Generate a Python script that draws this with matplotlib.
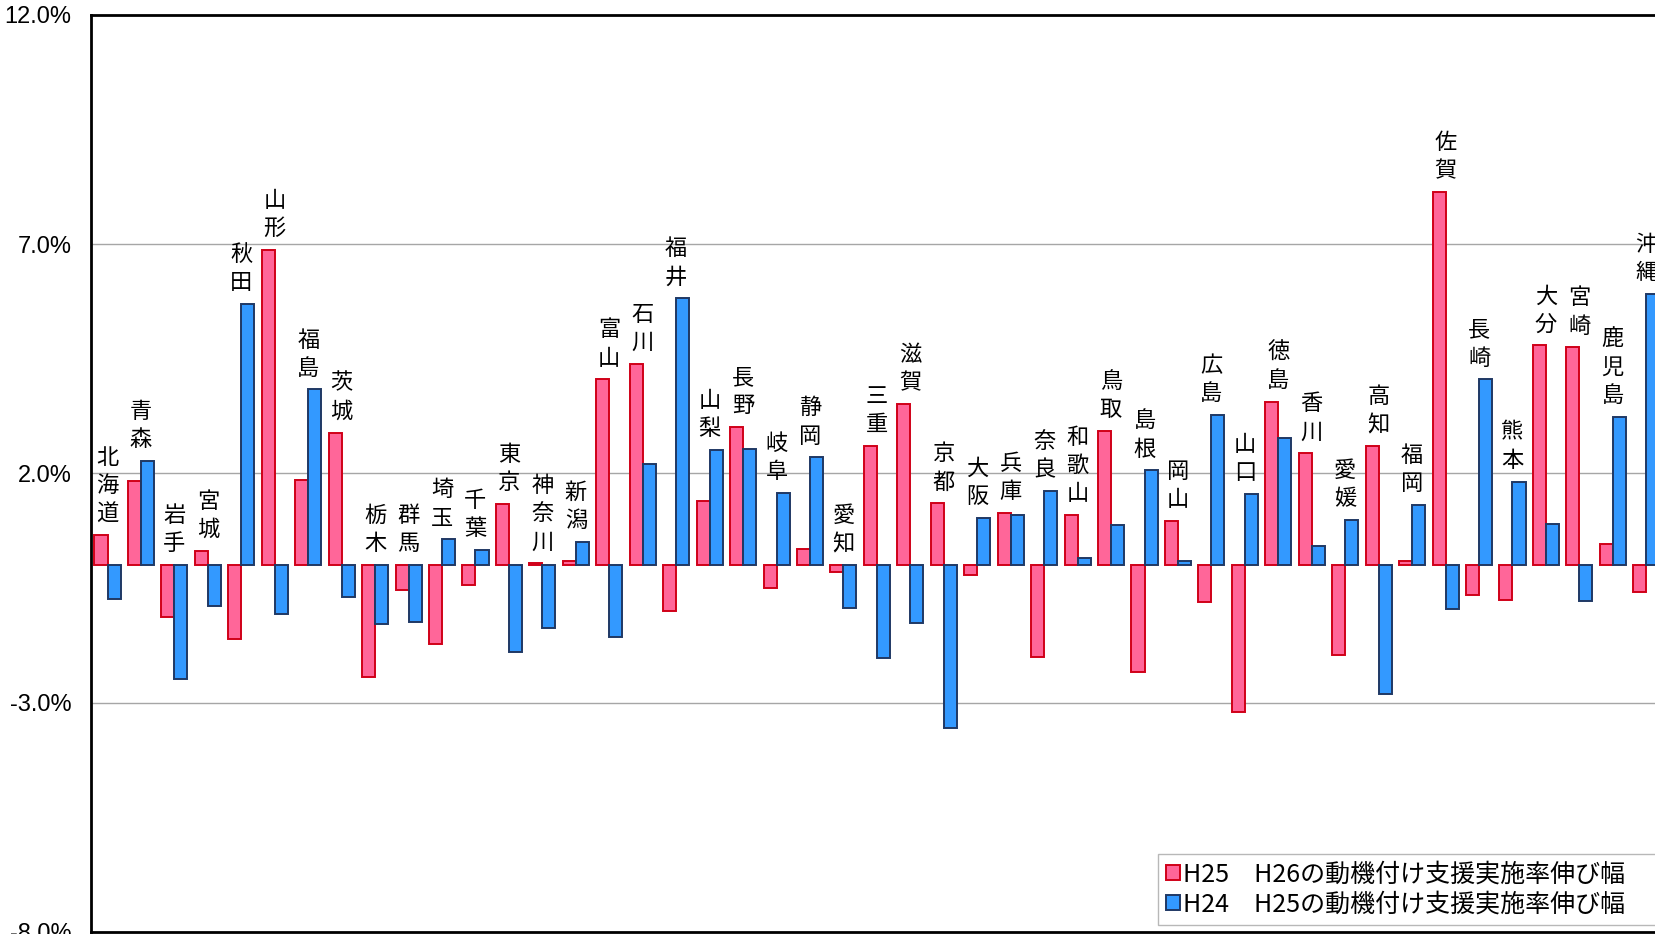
import matplotlib
matplotlib.use("Agg")
import matplotlib.pyplot as plt
import numpy as np

prefectures = ["北海道", "青森", "岩手", "宮城", "秋田", "山形", "福島", "茨城", "栃木", "群馬",
               "埼玉", "千葉", "東京", "神奈川", "新潟", "富山", "石川", "福井", "山梨", "長野",
               "岐阜", "静岡", "愛知", "三重", "滋賀", "京都", "大阪", "兵庫", "奈良", "和歌山",
               "鳥取", "島根", "岡山", "広島", "山口", "徳島", "香川", "愛媛", "高知", "福岡",
               "佐賀", "長崎", "熊本", "大分", "宮崎", "鹿児島", "沖縄"]

h25_h26 = [0.65, 1.84, -1.13, 0.31, -1.62, 6.87, 1.86, 2.89, -2.44, -0.54,
           -1.72, -0.43, 1.34, 0.04, 0.10, 4.05, 4.39, -0.99, 1.40, 3.01,
           -0.50, 0.36, -0.15, 2.60, 3.52, 1.35, -0.22, 1.14, -2.00, 1.09,
           2.93, -2.33, 0.97, -0.80, -3.20, 3.56, 2.44, -1.96, 2.60, 0.09,
           8.13, -0.65, -0.75, 4.79, 4.75, 0.45, -0.59]

h24_h25 = [-0.73, 2.28, -2.48, -0.89, 5.69, -1.07, 3.83, -0.69, -1.29, -1.24,
           0.56, 0.33, -1.89, -1.37, 0.51, -1.56, 2.21, 5.82, 2.52, 2.53,
           1.58, 2.35, -0.94, -2.02, -1.26, -3.55, 1.03, 1.10, 1.61, 0.15,
           0.87, 2.07, 0.09, 3.27, 1.56, 2.78, 0.41, 0.99, -2.82, 1.31,
           -0.95, 4.05, 1.82, 0.90, -0.78, 3.24, 5.92]

series_names = ["H25　H26の動機付け支援実施率伸び幅", "H24　H25の動機付け支援実施率伸び幅"]
y_ticks = [-8.0, -3.0, 2.0, 7.0, 12.0]
y_tick_labels = ["-8.0%", "-3.0%", "2.0%", "7.0%", "12.0%"]

CJK = ["Noto Sans CJK JP", "DejaVu Sans"]

W, H = 1655, 934
fig = plt.figure(figsize=(W / 100, H / 100), dpi=100)
ax_left, ax_right = 90.8, 1663.0
ax_top, ax_bottom = 14.8, 932.0
ax = fig.add_axes([ax_left / W, (H - ax_bottom) / H,
                   (ax_right - ax_left) / W, (ax_bottom - ax_top) / H])

x = np.arange(len(prefectures))
bw = 0.39
ax.bar(x - bw / 2, h25_h26, width=bw, color="#FF6699", edgecolor="#D00018",
       linewidth=1.4, label=series_names[0], zorder=3)
ax.bar(x + bw / 2, h24_h25, width=bw, color="#3399FF", edgecolor="#1F3864",
       linewidth=1.4, label=series_names[1], zorder=3)

ax.set_xlim(-0.5, len(prefectures) - 0.5)
ax.set_ylim(-8, 12)
ax.set_yticks(y_ticks)
ax.set_yticklabels(y_tick_labels, fontfamily="Liberation Sans", fontsize=17)
ax.tick_params(axis="y", length=0, pad=14)
ax.set_xticks([])
for yv in y_ticks[1:-1]:
    ax.axhline(yv, color="#A6A6A6", linewidth=1.0, zorder=1)

for s in ["left", "top", "bottom"]:
    ax.spines[s].set_linewidth(2.0)
    ax.spines[s].set_color("black")
ax.spines["right"].set_visible(False)

for i, name in enumerate(prefectures):
    top = max(0.0, h25_h26[i], h24_h25[i])
    ax.annotate("\n".join(name), xy=(x[i], top), xytext=(0, 7),
                textcoords="offset points", ha="center", va="bottom",
                fontsize=16, family=CJK, linespacing=1.29, zorder=4)

leg = ax.legend(loc="lower left", bbox_to_anchor=(0.679, 0.008, 0.34, 0.07),
                mode="expand", borderaxespad=0,
                prop={"family": CJK, "size": 18}, frameon=True, fancybox=False,
                edgecolor="#A6A6A6", handlelength=0.55, handleheight=0.55,
                handletextpad=0.15, labelspacing=0.15, borderpad=0.3)
leg.get_frame().set_linewidth(1.0)

fig.savefig("out.png", dpi=100)
